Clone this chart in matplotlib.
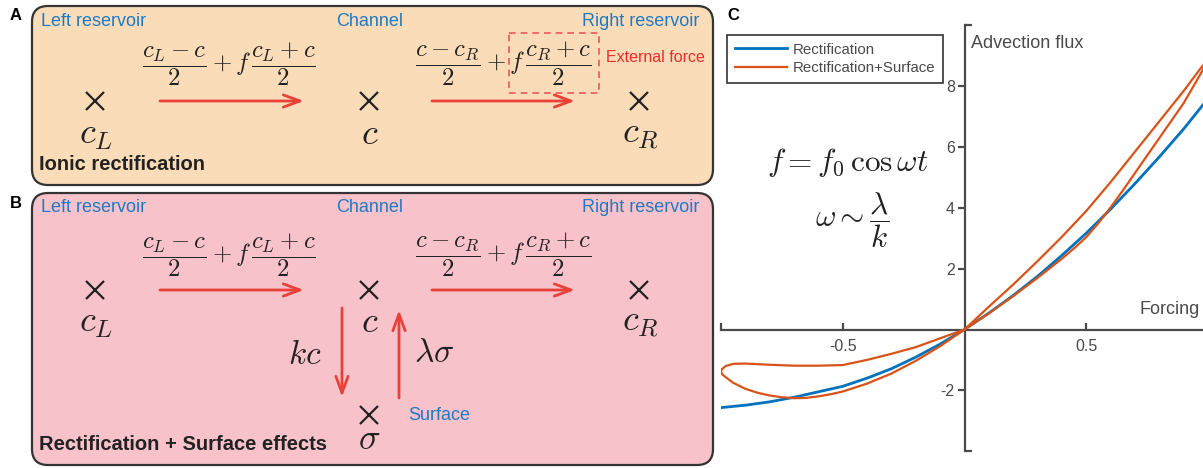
import matplotlib
matplotlib.use("Agg")
import matplotlib.pyplot as plt
from matplotlib.patches import FancyBboxPatch, Rectangle, FancyArrowPatch
from matplotlib.lines import Line2D

plt.rcParams["font.family"] = ["Liberation Sans", "DejaVu Sans"]
plt.rcParams["mathtext.fontset"] = "cm"

# panel C, values
blue_f = [-1.0, -0.9, -0.8, -0.7, -0.6, -0.5, -0.4, -0.3, -0.2, -0.1, 0.0,
          0.1, 0.2, 0.3, 0.4, 0.5, 0.6, 0.7, 0.8, 0.9, 1.0]
blue_flux = [-2.57, -2.49, -2.38, -2.23, -2.05, -1.87, -1.6, -1.29, -0.91, -0.48, 0.0,
             0.54, 1.12, 1.75, 2.44, 3.17, 3.96, 4.8, 5.68, 6.6, 7.6]

# the surface curve is a closed loop, listed in path order
orange_f = [1.0, 0.99, 0.97, 0.9, 0.8, 0.7, 0.6, 0.5, 0.4, 0.3, 0.2, 0.1, 0.0,
            -0.1, -0.2, -0.3, -0.4, -0.5, -0.55, -0.6, -0.65, -0.7, -0.75, -0.8,
            -0.85, -0.9, -0.95, -0.98, -0.995, -1.0,
            -0.995, -0.98, -0.95, -0.9, -0.8, -0.7, -0.6, -0.5, -0.4, -0.3, -0.2, -0.1, 0.0,
            0.1, 0.2, 0.3, 0.4, 0.45, 0.5, 0.55, 0.6, 0.65, 0.7, 0.8, 0.9, 0.97, 0.99, 1.0]
orange_flux = [8.88, 8.8, 8.6, 7.85, 6.85, 5.85, 4.85, 3.9, 3.05, 2.25, 1.48, 0.75, 0.0,
               -0.55, -1.03, -1.45, -1.78, -2.04, -2.13, -2.2, -2.25, -2.26, -2.23, -2.17,
               -2.08, -1.95, -1.75, -1.57, -1.47, -1.38,
               -1.3, -1.2, -1.13, -1.12, -1.16, -1.19, -1.19, -1.17, -1.0, -0.8, -0.58, -0.29, 0.0,
               0.53, 1.1, 1.7, 2.33, 2.67, 3.04, 3.5, 4.02, 4.57, 5.15, 6.3, 7.45, 8.42, 8.72, 8.88]

legend_labels = ["Rectification", "Rectification+Surface"]
x_ticks = [-1.0, -0.5, 0.5, 1.0]
x_tick_labels = ["", "-0.5", "0.5", ""]
y_ticks = [-2, 2, 4, 6, 8]
y_tick_labels = ["-2", "2", "4", "6", "8"]
y_end_ticks = [-4, 10]

W, H = 1203, 468
BLUE_TXT = "#1f7ac3"
RED = "#e8413a"
GRAY = "#4a4a4a"
INK = "#222222"

fig = plt.figure(figsize=(W / 100, H / 100), dpi=100)

# overlay in pixel coordinates for the two diagrams
ov = fig.add_axes([0, 0, 1, 1])
ov.set_xlim(0, W)
ov.set_ylim(H, 0)
ov.axis("off")


def arrow(p0, p1):
    ov.add_patch(FancyArrowPatch(p0, p1, arrowstyle="->,head_length=0.6,head_width=0.22",
                                 mutation_scale=20, lw=2, color=RED,
                                 shrinkA=0, shrinkB=0))


def cross(x, y):
    ov.plot([x], [y], marker="x", ms=13, mew=1.6, color=INK)


def math(x, y, s, size):
    ov.text(x, y, s, fontsize=size, ha="center", va="center", color=INK)


def panel(top, bottom, fill, label, title, ycross, yfrac):
    ov.add_patch(FancyBboxPatch((32, top), 681, bottom - top,
                                boxstyle="round,pad=0,rounding_size=16",
                                fc=fill, ec="#333333", lw=1.6))
    ov.text(16, top + 10, label, fontsize=12, fontweight="bold", ha="center", va="center")
    ov.text(41, top + 15, "Left reservoir", fontsize=13, color=BLUE_TXT, va="center")
    ov.text(370, top + 15, "Channel", fontsize=13, color=BLUE_TXT, ha="center", va="center")
    ov.text(699, top + 15, "Right reservoir", fontsize=13, color=BLUE_TXT, ha="right", va="center")
    ov.text(39, bottom - 21, title, fontsize=14.5, fontweight="bold", va="center", color=INK)
    math(229, yfrac, r"$\dfrac{c_L-c}{2}+f\,\dfrac{c_L+c}{2}$", 17.8)
    math(503, yfrac, r"$\dfrac{c-c_R}{2}+f\,\dfrac{c_R+c}{2}$", 17.8)
    for x, s in [(95, r"$c_L$"), (369, r"$c$"), (639, r"$c_R$")]:
        cross(x, ycross)
        math(x + 1, ycross + 33, s, 26)
    arrow((160, ycross), (304, ycross))
    arrow((432, ycross), (575, ycross))


panel(6, 185, "#fadcb9", "A", "Ionic rectification", 101, 64)
ov.add_patch(Rectangle((509, 33), 90, 60, fill=False, ec="#ef5555", lw=1.2,
                       ls=(0, (4, 3))))
ov.text(606, 58, "External force", fontsize=11.5, color="#ee2b2b", va="center")

panel(193, 465, "#f7c2ca", "B", "Rectification + Surface effects", 290, 255)
arrow((342, 308), (342, 397))
arrow((399, 398), (399, 310))
math(305, 356, r"$kc$", 24)
math(434, 354, r"$\lambda\sigma$", 24)
cross(369, 415)
math(369, 440, r"$\sigma$", 26)
ov.text(408, 415, "Surface", fontsize=13, color=BLUE_TXT, va="center")

# panel C
ov.text(733, 15, "C", fontsize=12, fontweight="bold", ha="center", va="center")
math(848, 163, r"$f = f_0\,\cos\omega t$", 22.5)
math(852, 220, r"$\omega \sim \dfrac{\lambda}{k}$", 22.5)

ax = fig.add_axes([720.9 / W, (H - 451.1) / H, 487.2 / W, 425.6 / H])
ax.patch.set_alpha(0)
ax.plot(blue_f, blue_flux, color="#0072bd", lw=2.0, label=legend_labels[0], zorder=3)
ax.plot(orange_f, orange_flux, color="#d95319", lw=1.6, label=legend_labels[1], zorder=4)
ax.set_xlim(-1, 1)
ax.set_ylim(-4, 10)
for s in ["top", "right"]:
    ax.spines[s].set_visible(False)
for s in ["left", "bottom"]:
    ax.spines[s].set_position(("data", 0))
    ax.spines[s].set_color(GRAY)
    ax.spines[s].set_linewidth(1.6)
ax.set_xticks(x_ticks, x_tick_labels)
ax.set_yticks(y_ticks, y_tick_labels)
ax.set_yticks(y_end_ticks, minor=True)
ax.tick_params(axis="x", direction="in", length=5, width=1.6, colors=GRAY,
               labelsize=11.5, pad=7)
ax.tick_params(axis="y", which="major", direction="out", length=5, width=1.6,
               colors=GRAY, labelsize=11.5, pad=2)
ax.tick_params(axis="y", which="minor", direction="in", length=5, width=1.6, colors=GRAY)

ov.text(1200, 310, "Forcing", fontsize=13, color=GRAY, ha="right", va="center")
ov.text(971, 43, "Advection flux", fontsize=13, color=GRAY, va="center")

handles = [Line2D([], [], color="#0072bd", lw=2.0), Line2D([], [], color="#d95319", lw=1.6)]
leg = ax.legend(handles, legend_labels, loc="upper left",
                bbox_to_anchor=(727 / W, 1 - 35 / H), bbox_transform=fig.transFigure,
                fancybox=False, edgecolor="#333333", fontsize=10.8, borderaxespad=0,
                handlelength=3.5, handletextpad=0.4, labelspacing=0.3, borderpad=0.5,
                framealpha=1)
leg.get_frame().set_linewidth(1.2)
for t in leg.get_texts():
    t.set_color(GRAY)

fig.savefig("out.png", dpi=100)
